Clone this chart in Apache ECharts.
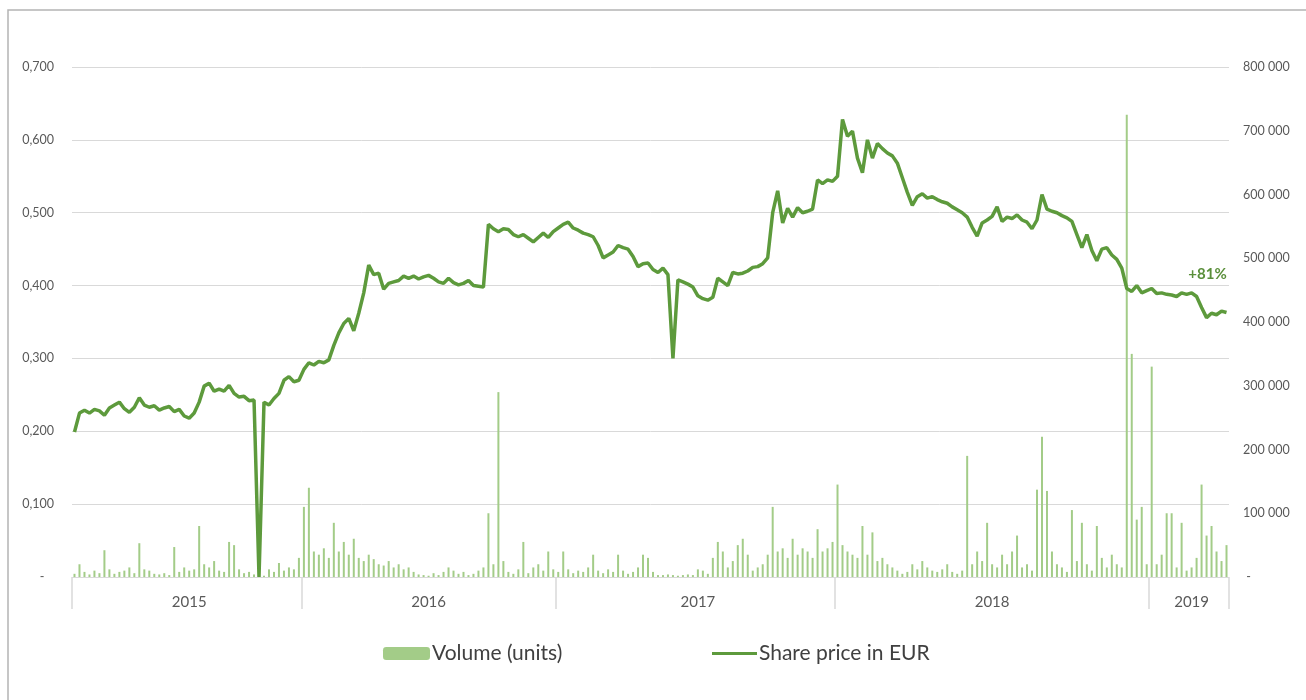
<!DOCTYPE html>
<html>
<head>
<meta charset="utf-8">
<script src="https://cdn.jsdelivr.net/npm/echarts@6/dist/echarts.min.js"></script>
<style>
html,body{margin:0;padding:0;background:#fff;}
#chart{width:1306px;height:700px;}
</style>
</head>
<body>
<div id="chart"></div>
<script>
// Year groups of the category axis and number of (roughly weekly) points per year
const years = ['2015', '2016', '2017', '2018', '2019'];
const pointsPerYear = [46, 51, 56, 63, 16];

// Share price in EUR (left axis)
const price2015 = [0.199,0.225,0.229,0.225,0.230,0.228,0.222,0.232,0.236,0.240,0.231,0.226,0.233,0.246,0.236,0.233,0.235,0.229,0.232,0.234,0.227,0.230,0.221,0.218,0.225,0.240,0.262,0.266,0.255,0.258,0.255,0.263,0.252,0.247,0.248,0.242,0.243,0,0.240,0.236,0.245,0.252,0.270,0.275,0.268,0.270];
const price2016 = [0.285,0.294,0.291,0.296,0.294,0.298,0.318,0.335,0.348,0.355,0.338,0.362,0.390,0.428,0.415,0.417,0.395,0.403,0.405,0.407,0.413,0.410,0.413,0.409,0.412,0.414,0.410,0.405,0.403,0.410,0.404,0.401,0.403,0.407,0.400,0.399,0.398,0.484,0.478,0.474,0.478,0.477,0.470,0.467,0.470,0.465,0.460,0.466,0.472,0.466,0.474];
const price2017 = [0.479,0.484,0.487,0.479,0.476,0.472,0.470,0.467,0.455,0.438,0.442,0.446,0.455,0.452,0.450,0.440,0.426,0.430,0.431,0.422,0.418,0.424,0.415,0.300,0.408,0.405,0.402,0.398,0.386,0.382,0.380,0.384,0.410,0.405,0.400,0.418,0.416,0.417,0.420,0.425,0.426,0.430,0.438,0.500,0.530,0.486,0.506,0.494,0.507,0.500,0.502,0.505,0.545,0.540,0.545,0.543];
const price2018 = [0.550,0.628,0.605,0.612,0.575,0.555,0.600,0.575,0.595,0.588,0.582,0.578,0.568,0.548,0.528,0.510,0.522,0.526,0.520,0.522,0.518,0.515,0.513,0.508,0.504,0.500,0.494,0.480,0.468,0.486,0.490,0.495,0.508,0.488,0.494,0.492,0.497,0.490,0.487,0.478,0.490,0.525,0.505,0.502,0.500,0.496,0.493,0.488,0.470,0.452,0.470,0.448,0.434,0.450,0.452,0.442,0.436,0.424,0.396,0.392,0.400,0.390,0.393];
const price2019 = [0.396,0.389,0.390,0.388,0.387,0.385,0.390,0.388,0.390,0.385,0.370,0.356,0.362,0.360,0.365,0.363];

// Volume in units (right axis) (thousands)
const vol2015 = [5,20,8,4,10,6,42,12,5,8,10,15,6,53,12,10,5,4,6,3,47,8,15,10,12,80,20,15,25,10,8,55,50,12,6,8,4,3,2,12,8,22,10,15,12,30];
const vol2016 = [110,140,40,35,45,30,85,40,55,35,60,30,25,35,28,20,18,25,15,20,12,15,8,4,3,2,6,3,8,15,10,5,8,3,5,10,15,100,20,290,25,8,5,12,55,6,15,20,10,40,12];
const vol2017 = [8,40,12,6,10,8,15,35,10,6,12,8,35,10,5,8,15,35,30,8,3,3,4,3,2,3,4,3,12,10,5,30,55,40,15,25,50,60,35,10,15,20,35,110,40,45,30,60,35,45,40,30,75,40,45,55];
const vol2018 = [145,50,40,35,30,80,35,70,25,30,20,15,10,5,8,20,12,25,15,10,8,12,20,8,5,10,190,20,40,25,85,20,15,35,20,40,65,15,20,10,137,220,135,40,20,15,8,105,25,85,20,10,80,30,15,35,20,15,725,350,90,110,20];
const vol2019 = [330,20,35,100,100,15,85,10,15,30,145,65,80,40,25,50];

// Left and right axis ticks
const priceTicks = { min: 0, max: 0.7, interval: 0.1 };
const volumeTicks = { min: 0, max: 800000, interval: 100000 };
const changeLabel = '+81%';

// ---- build what the library needs ----
const priceData = [].concat(price2015, price2016, price2017, price2018, price2019);
const volumeData = [].concat(vol2015, vol2016, vol2017, vol2018, vol2019).map(v => v * 1000);
const categories = [];
const yearStarts = [];
const yearMiddles = [];
years.forEach((y, k) => {
  yearStarts.push(categories.length);
  yearMiddles.push(categories.length + Math.floor(pointsPerYear[k] / 2));
  for (let j = 0; j < pointsPerYear[k]; j++) categories.push(y + '-' + (j + 1));
});

const FONT = 'Lato, "Open Sans", sans-serif';
const chart = echarts.init(document.getElementById('chart'));
chart.setOption({
  animation: false,
  backgroundColor: '#ffffff',
  graphic: [{
    type: 'rect',
    shape: { x: 8, y: 10, width: 1330, height: 720 },
    style: { fill: 'none', stroke: '#b4b4b4', lineWidth: 1.5 },
    silent: true
  }],
  grid: { left: 72, right: 77, top: 67, bottom: 123, containLabel: false },
  legend: [{
    data: ['Volume (units)'],
    left: 383, top: 643, padding: 0,
    itemWidth: 47, itemHeight: 13,
    textStyle: { fontFamily: FONT, fontSize: 21, color: '#404040', padding: [0, 0, 0, -3] }
  }, {
    data: [{ name: 'Share price in EUR', icon: 'rect' }],
    left: 712, top: 643, padding: 0,
    itemWidth: 45, itemHeight: 3,
    textStyle: { fontFamily: FONT, fontSize: 21, color: '#404040', padding: [0, 0, 0, -3] }
  }],
  xAxis: {
    type: 'category',
    data: categories,
    boundaryGap: true,
    offset: 5,
    axisLine: { show: false },
    axisTick: {
      show: true,
      length: 32,
      interval: (index) => yearStarts.includes(index),
      lineStyle: { color: '#d9d9d9', width: 1.5 }
    },
    axisLabel: {
      interval: (index) => yearMiddles.includes(index),
      formatter: (v) => v.split('-')[0],
      margin: 13,
      fontFamily: FONT, fontSize: 15, color: '#595959'
    },
    splitLine: { show: false }
  },
  yAxis: [{
    type: 'value',
    min: priceTicks.min, max: priceTicks.max, interval: priceTicks.interval,
    axisLine: { show: false }, axisTick: { show: false },
    axisLabel: {
      margin: 18,
      fontFamily: FONT, fontSize: 12.5, color: '#595959',
      formatter: (v) => v === 0 ? '-   ' : v.toFixed(3).replace('.', ',')
    },
    splitLine: { lineStyle: { color: '#d9d9d9', width: 1 } }
  }, {
    type: 'value',
    min: volumeTicks.min, max: volumeTicks.max, interval: volumeTicks.interval,
    axisLine: { show: false }, axisTick: { show: false },
    axisLabel: {
      margin: 14,
      fontFamily: FONT, fontSize: 12.5, color: '#595959',
      formatter: (v) => v === 0 ? ' -' : String(Math.round(v)).replace(/\B(?=(\d{3})+(?!\d))/g, ' ')
    },
    splitLine: { show: false }
  }],
  series: [{
    name: 'Volume (units)',
    type: 'bar',
    yAxisIndex: 1,
    data: volumeData,
    barWidth: 2,
    itemStyle: { color: '#a3cc88' },
    z: 1
  }, {
    name: 'Share price in EUR',
    type: 'line',
    yAxisIndex: 0,
    data: priceData,
    symbol: 'none',
    showSymbol: false,
    lineStyle: { color: '#5d9a3c', width: 3.5 },
    itemStyle: { color: '#5d9a3c' },
    z: 3,
    markPoint: {
      symbol: 'circle', symbolSize: 0,
      data: [{ coord: [categories.length - 1, priceData[priceData.length - 1]] }],
      label: {
        show: true, position: 'top', offset: [-19, -26],
        formatter: changeLabel,
        fontFamily: FONT, fontSize: 15, fontWeight: 'bold', color: '#5a8f3a'
      }
    }
  }]
});
</script>
</body>
</html>
